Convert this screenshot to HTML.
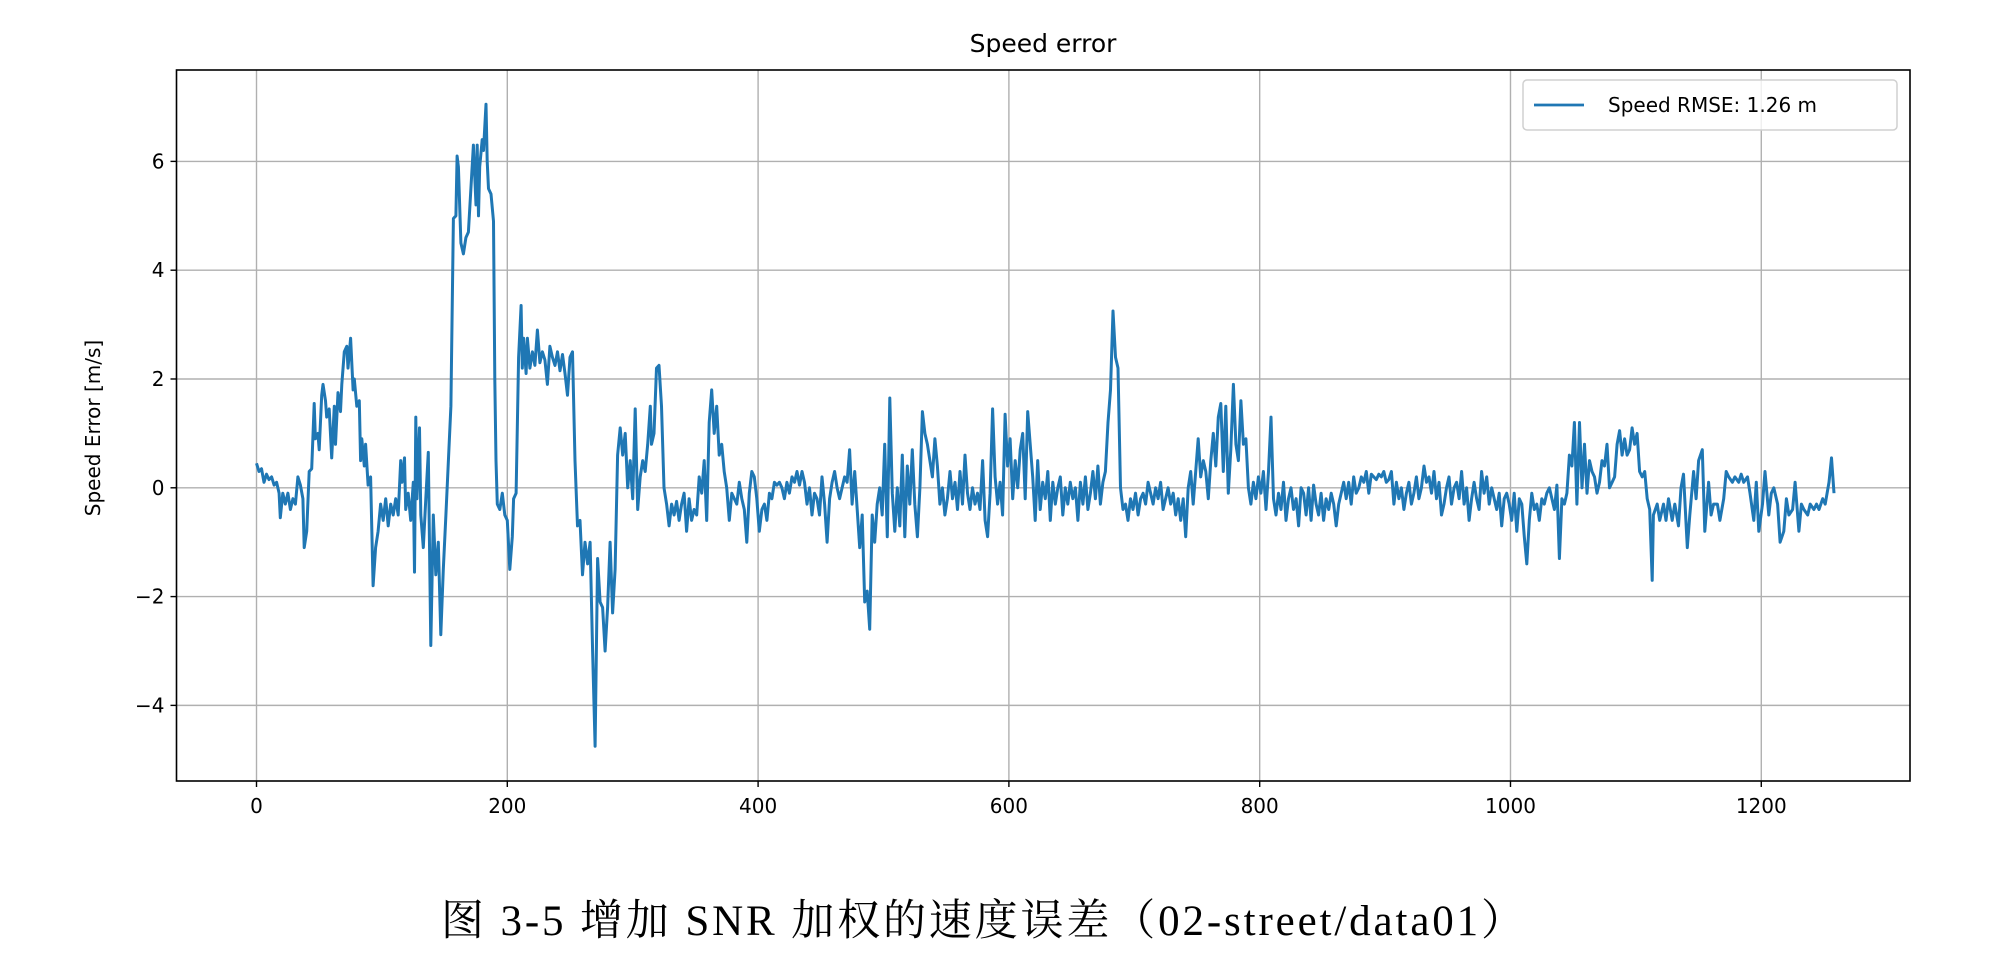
<!DOCTYPE html>
<html><head><meta charset="utf-8"><style>
html,body{margin:0;padding:0;background:#fff;}
svg{display:block;}
</style></head><body>
<svg id="chart" width="1991" height="963" xmlns="http://www.w3.org/2000/svg">
<rect width="1991" height="963" fill="#fff"/>
<text x="1043" y="52" font-family="DejaVu Sans, Liberation Sans, sans-serif" font-size="25" text-anchor="middle">Speed error</text>
<g id="grid"></g>
<g id="ticks"></g>
<g id="series"></g>
<rect x="176.5" y="70" width="1733.5" height="711" fill="none" stroke="#000" stroke-width="1.6"/>
<text transform="translate(100,428) rotate(-90)" font-family="DejaVu Sans, Liberation Sans, sans-serif" font-size="20" text-anchor="middle">Speed Error [m/s]</text>
<g>
<rect x="1523" y="80" width="374" height="50" rx="4" fill="#fff" fill-opacity="0.8" stroke="#d0d0d0" stroke-width="1.5"/>
<line x1="1534" y1="105" x2="1584" y2="105" stroke="#1f77b4" stroke-width="2.8"/>
<text x="1608" y="112" font-family="DejaVu Sans, Liberation Sans, sans-serif" font-size="20">Speed RMSE: 1.26 m</text>
</g>
<text x="441" y="935" textLength="1083" lengthAdjust="spacing" font-family="Liberation Serif, Noto Serif CJK SC, serif" font-size="43">图 3-5 增加 SNR 加权的速度误差（02-street/data01）</text>
</svg>
<script>
const xTicks=[0,200,400,600,800,1000,1200];
const yTicks=[-4,-2,0,2,4,6];
const yTickLabels=["−4","−2","0","2","4","6"];
const xsHead=[0,2,4,6,8,10,12,14,16,18,19,21,23,25,27,29,31,33,35,37,38,40,42,44,46,47,49,50,52,53,55,56,58,60,62,63,65,67,68,70,72,73,75,77,78,80,82,83,84,86,87,89,91,93,95,97,99,101,103,105,107,109,111,113,115,116,118,119,121,123,125,126,127,128,130,131,133,135,137,139,141,143,145,147,149,151,153,155,157,159,160,161,163,165,167,169,171,173,175,176,177,178,180,181,183,184,185,187,189,190,191,192,194,196,198,200,202,204,205,207,209,211,212,213,215,216,218,220,222,224,226,228,230,232,234,236,238,240,242,244,246,248,250,252,254,256,258,260,262,264,266,268,270,272,274,276,278,280,282,284,286,288,290,292,294,296,298,300,302,304,306,308,310,312,314,315,317,319,321,323,325];
const ysHead=[0.45,0.3,0.35,0.1,0.25,0.15,0.2,0.05,0.1,-0.1,-0.55,-0.1,-0.3,-0.1,-0.4,-0.2,-0.3,0.2,0.05,-0.2,-1.1,-0.8,0.3,0.35,1.55,0.9,1.0,0.7,1.7,1.9,1.6,1.3,1.45,0.55,1.5,0.8,1.75,1.4,1.9,2.5,2.6,2.2,2.75,1.8,2.0,1.5,1.6,0.5,0.9,0.4,0.8,0.05,0.2,-1.8,-1.1,-0.8,-0.3,-0.6,-0.2,-0.7,-0.3,-0.5,-0.2,-0.5,0.5,0.1,0.55,-0.4,-0.1,-0.6,0.1,-1.55,1.3,-0.2,1.1,-0.5,-1.1,-0.2,0.65,-2.9,-0.5,-1.6,-1.0,-2.7,-1.5,-0.5,0.5,1.5,4.95,5.0,6.1,5.9,4.5,4.3,4.6,4.7,5.5,6.3,5.2,6.3,5.0,5.9,6.4,6.2,7.05,6.0,5.5,5.4,4.9,2.0,0.5,-0.3,-0.4,-0.1,-0.5,-0.6,-1.5,-0.9,-0.2,-0.1,2.4,3.35,2.2,2.75,2.1,2.75,2.2,2.5,2.25,2.9,2.3,2.5,2.35,1.9,2.6,2.4,2.25,2.5,2.15,2.45,2.1,1.7,2.4,2.5,0.5,-0.7,-0.6,-1.6,-1.0,-1.4,-1.0,-3.0,-4.75,-1.3,-2.1,-2.2,-3.0,-2.2,-1.0,-2.3,-1.5,0.6,1.1,0.6,1.0,0.0,0.5,-0.2,1.45,-0.4,0.2,0.5,0.3,0.8,1.5,0.8,1.0,2.2,2.25,1.5,0.0];
const ysMid=[-0.3,-0.7,-0.3,-0.5,-0.25,-0.6,-0.3,-0.1,-0.8,-0.2,-0.6,-0.4,-0.5,0.2,-0.1,0.5,-0.6,1.2,1.8,1.0,1.5,0.6,0.8,0.3,0.0,-0.6,-0.1,-0.2,-0.3,0.1,-0.2,-0.4,-1.0,-0.1,0.3,0.2,-0.2,-0.8,-0.4,-0.3,-0.6,-0.1,-0.2,0.1,0.05,0.1,0.0,-0.2,0.1,-0.1,0.2,0.1,0.3,0.05,0.3,0.1,-0.3,0.0,-0.5,-0.1,-0.2,-0.5,0.2,-0.3,-1.0,-0.2,0.1,0.3,0.0,-0.2,0.0,0.2,0.1,0.7,-0.3,0.3,-0.4,-1.1,-0.5,-2.1,-1.9,-2.6,-0.5,-1.0,-0.3,0.0,-0.5,0.8,-0.9,1.65,-0.1,-0.8,0.0,-0.7,0.6,-0.9,0.4,-0.3,0.7,-0.3,-0.9,0.0,1.4,1.0,0.8,0.5,0.2,0.9,0.4,-0.3,0.0,-0.5,-0.2,0.3,-0.2,0.1,-0.4,0.3,-0.3,0.6,-0.1,-0.4,0.0,-0.3,-0.1,-0.4,0.5,-0.6,-0.9,-0.1,1.45,0.2,-0.3,0.1,-0.5,1.35,0.4,0.9,-0.2,0.5,0.0,0.7,1.0,-0.2,1.4,0.8,0.2,-0.6,0.5,-0.4,0.1,-0.2,0.3,-0.6,0.1,-0.3,0.0,0.2,-0.5,0.0,-0.3,0.1,-0.2,0.0,-0.6,0.1,-0.3,0.2,-0.4,-0.1,0.3,-0.2,0.4,-0.3,0.1,0.3,1.2,1.8,3.25,2.4,2.2,0.0,-0.4,-0.3,-0.6,-0.2,-0.4,-0.1,-0.5,-0.2,-0.1,-0.3,0.1,-0.1,-0.3,0.0,-0.2,0.1,-0.4,-0.2,0.0,-0.3,-0.1,-0.5,-0.2,-0.6,-0.2,-0.9,0.0,0.3,-0.3,0.3,0.9,0.2,0.5,0.3,-0.2,0.5,1.0,0.4,1.3,1.55,0.3,1.5,-0.1,0.7,1.9,0.8,0.5,1.6,0.8,0.9,0.0,-0.3,0.1,-0.2,0.2,-0.1,0.3,-0.4,0.3,1.3,-0.2,-0.5,-0.1,-0.4,0.1,-0.6,-0.2,0.0,-0.4,-0.2,-0.7,0.0,-0.1,-0.5,0.0,-0.6,0.05,-0.3,-0.5,-0.1,-0.6,-0.2,-0.4,-0.1,-0.3,-0.7,-0.3,-0.1,0.1,-0.2,0.1,-0.3,0.2,-0.1,0.0,0.2,0.1,0.3,-0.1,0.25,0.2,0.15,0.25,0.2,0.3,0.1,0.15,0.3,-0.3,0.1,-0.2,0.0,-0.4,-0.1,0.1,-0.3,-0.1,0.2,-0.2,0.0,0.4,0.1,0.2,-0.1,0.3,-0.2,0.1,-0.5,-0.3,0.0,0.2,-0.3,0.0,0.1,-0.2,0.3,-0.3,0.0,-0.6,-0.2,0.1,-0.2,-0.4,0.3,-0.1,0.2,-0.3,0.0,-0.2,-0.4,-0.1,-0.7,-0.2,-0.1,-0.3,-0.6,-0.1,-0.8,-0.2,-0.3,-0.9,-1.4,-0.6,-0.1,-0.4,-0.3,-0.6,-0.2,-0.3,-0.1,0.0,-0.2,-0.4,0.05,-1.3,-0.2,-0.3,-0.1,0.6,0.4,1.2,-0.3,1.2,0.0,0.8,-0.1,0.5,0.3,0.2,-0.1,0.1,0.5,0.4,0.8,0.0,0.1,0.2,0.8,1.05,0.6,0.9,0.6,0.7,1.1,0.8,1.0,0.3,0.2,0.3,-0.2,-0.4,-1.7];
const ysTail=[-0.5,-0.3,-0.6,-0.3,-0.6,-0.2,-0.6,-0.3,-0.7,0.0,0.25,-1.1,-0.5,0.3,-0.2,0.5,0.7,-0.8,0.1,-0.5,-0.3,-0.3,-0.6,-0.2,0.3,0.2,0.1,0.2,0.1,0.25,0.1,0.2,-0.1,-0.6,0.1,-0.8,-0.3,0.3,-0.5,-0.1,0.0,-0.3,-1.0,-0.8,-0.2,-0.5,-0.4,0.1,-0.8,-0.3,-0.4,-0.5,-0.3,-0.4,-0.3,-0.4,-0.2,-0.3,0.1,0.55,-0.1];
const xsTail=[1114,1117,1119,1122,1124,1126,1129,1131,1134,1136,1138,1141,1143,1146,1148,1150,1153,1155,1158,1160,1162,1165,1167,1170,1172,1174,1177,1179,1182,1184,1186,1189,1191,1194,1196,1198,1201,1203,1206,1208,1210,1213,1215,1218,1220,1222,1225,1227,1230,1232,1234,1237,1239,1242,1244,1246,1249,1251,1254,1256,1258];

const X0=176.5,X1=1910,Y0=70,Y1=781,XMIN=-63.8,XMAX=1318.6,YMIN=-5.39,YMAX=7.68;
function sx(v){return X0+(v-XMIN)/(XMAX-XMIN)*(X1-X0);}
function sy(v){return Y1-(v-YMIN)/(YMAX-YMIN)*(Y1-Y0);}
const NS="http://www.w3.org/2000/svg";
function mk(tag,attrs,parent){const e=document.createElementNS(NS,tag);for(const k in attrs)e.setAttribute(k,attrs[k]);parent.appendChild(e);return e;}
const grid=document.getElementById('grid'),ticks=document.getElementById('ticks'),series=document.getElementById('series');
xTicks.forEach(t=>{
  const x=sx(t);
  const g=mk('line',{x1:x,y1:Y0,x2:x,y2:Y1,stroke:'#b0b0b0','stroke-width':1.4},grid);
  
  
  const tk=mk('line',{x1:x,y1:Y1,x2:x,y2:Y1+6,stroke:'#000','stroke-width':1.4},ticks);
  
  
  const lb=mk('text',{x:x,y:Y1+32,'font-family':'DejaVu Sans, Liberation Sans, sans-serif','font-size':20,'text-anchor':'middle'},ticks);
  lb.textContent=String(t);
  
  
});
yTicks.forEach((t,i)=>{
  const y=sy(t);
  const g=mk('line',{x1:X0,y1:y,x2:X1,y2:y,stroke:'#b0b0b0','stroke-width':1.4},grid);
  
  
  const tk=mk('line',{x1:X0-6,y1:y,x2:X0,y2:y,stroke:'#000','stroke-width':1.4},ticks);
  
  
  const lb=mk('text',{x:X0-12,y:y+7,'font-family':'DejaVu Sans, Liberation Sans, sans-serif','font-size':20,'text-anchor':'end'},ticks);
  lb.textContent=yTickLabels[i];
  
  
});
const xs=[],ys=[];
xsHead.forEach((x,i)=>{xs.push(x);ys.push(ysHead[i]);});
ysMid.forEach((y,i)=>{xs.push(327+2*i);ys.push(y);});
xsTail.forEach((x,i)=>{xs.push(x);ys.push(ysTail[i]);});
const d=xs.map((x,i)=>(i?'L':'M')+sx(x).toFixed(1)+' '+sy(ys[i]).toFixed(1)).join(' ');
const p=mk('path',{d:d,fill:'none',stroke:'#1f77b4','stroke-width':3,'stroke-linejoin':'round'},series);


</script>
</body></html>
